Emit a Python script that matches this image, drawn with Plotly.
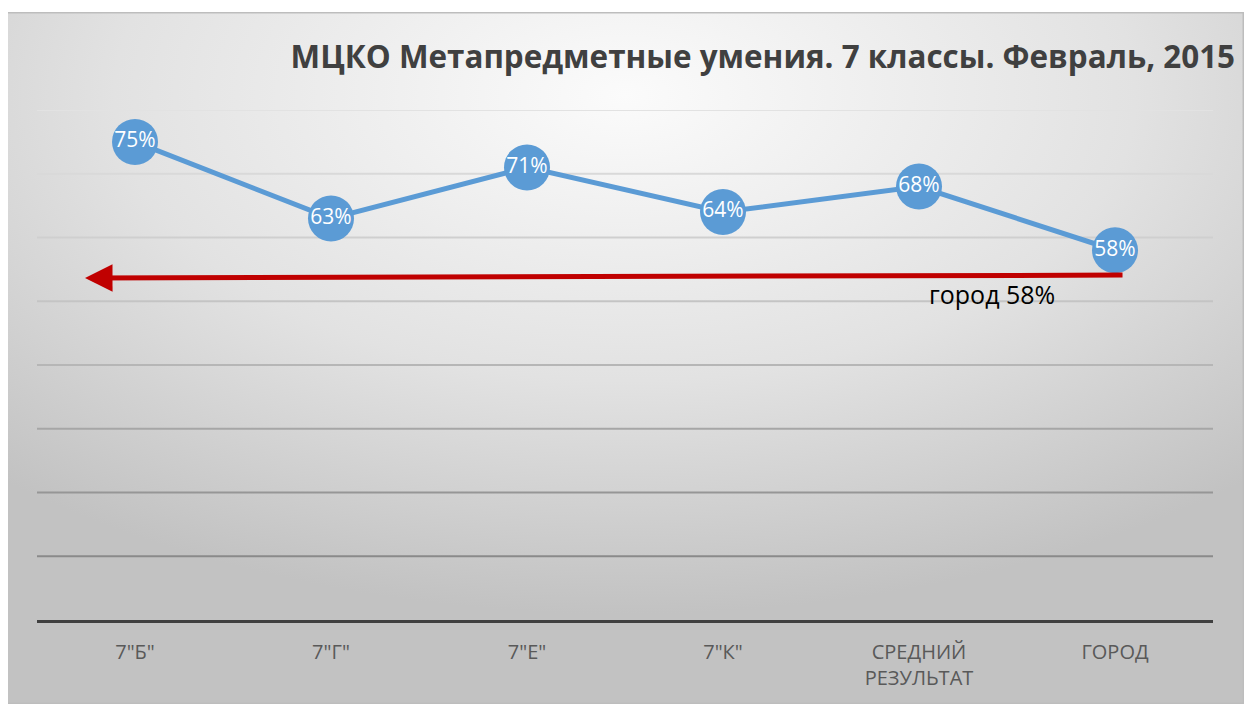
import base64
import plotly.graph_objects as go

categories = ['7"Б"', '7"Г"', '7"Е"', '7"К"', 'СРЕДНИЙ<br>РЕЗУЛЬТАТ', 'ГОРОД']
values = [0.75, 0.63, 0.71, 0.64, 0.68, 0.58]
labels = ["75%", "63%", "71%", "64%", "68%", "58%"]
title_text = "МЦКО Метапредметные умения. 7 классы. Февраль, 2015"
city_label = "город 58%"
grid_levels = [0.1, 0.2, 0.3, 0.4, 0.5, 0.6, 0.7, 0.8]
grid_colors = ["#8a8a8a", "#969696", "#a6a6a6", "#b6b6b6", "#c4c4c4", "#cfcfcf", "#d9d9d9", "#e2e2e2"]

svg = """<svg xmlns='http://www.w3.org/2000/svg' width='1238' height='692' preserveAspectRatio='none'>
<defs><radialGradient id='g' cx='50%' cy='12%' r='75%' fx='50%' fy='12%'>
<stop offset='0' stop-color='#fbfbfb'/><stop offset='0.55' stop-color='#e2e2e2'/><stop offset='1' stop-color='#c2c2c2'/>
</radialGradient></defs>
<rect x='0' y='0' width='1238' height='692' fill='url(#g)' stroke='#bdbdbd' stroke-width='3'/>
</svg>"""
bg = "data:image/svg+xml;base64," + base64.b64encode(svg.encode()).decode()

fig = go.Figure()
fig.add_trace(go.Scatter(
    x=categories, y=values, mode="lines+markers+text",
    text=labels, textposition="middle center",
    textfont=dict(family="Open Sans", size=21, color="white"),
    line=dict(color="#5B9BD5", width=5),
    marker=dict(size=46, color="#5B9BD5"),
    hoverinfo="skip", cliponaxis=False,
))

for lvl, col in zip(grid_levels, grid_colors):
    fig.add_shape(type="line", xref="paper", yref="y", x0=0, x1=1, y0=lvl, y1=lvl,
                  line=dict(color=col, width=2), layer="below")

fig.add_annotation(
    x=-0.255, y=0.5365, ax=5.046, ay=0.541,
    xref="x", yref="y", axref="x", ayref="y",
    text="", showarrow=True, arrowhead=2, arrowsize=1.1, arrowwidth=5,
    arrowcolor="#C00000",
)
fig.add_annotation(
    x=4.37, y=0.511, xref="x", yref="y", text=city_label, showarrow=False,
    font=dict(family="Open Sans", size=25, color="black"),
)

fig.add_layout_image(dict(
    source=bg, xref="paper", yref="paper",
    x=-0.02636, y=1.1922, sizex=1.05272, sizey=1.3569,
    xanchor="left", yanchor="top", sizing="stretch", layer="below",
))

fig.update_layout(
    width=1246, height=696,
    margin=dict(l=29, r=41, t=102, b=84),
    paper_bgcolor="white", plot_bgcolor="rgba(0,0,0,0)",
    showlegend=False,
    title=dict(text="<b>" + title_text + "</b>", x=0.9848, xanchor="right", xref="container",
               y=0.9296, yanchor="middle", yref="container",
               font=dict(family="Open Sans", size=31.4, color="#404040")),
    xaxis=dict(type="category", range=[-0.5, 5.5], showgrid=False,
               showline=True, linecolor="#404040", linewidth=3,
               ticks="", ticklabelstandoff=12,
               tickfont=dict(family="Open Sans", size=20, color="#595959"),
               fixedrange=True),
    yaxis=dict(range=[0, 0.8], dtick=0.1, showticklabels=False, showgrid=False,
               zeroline=False, fixedrange=True),
)

fig.write_html("out.html")
